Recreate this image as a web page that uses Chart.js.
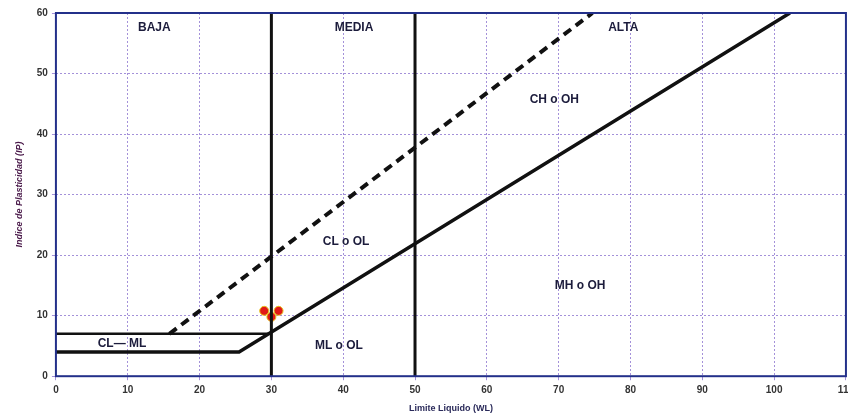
<!DOCTYPE html>
<html>
<head>
<meta charset="utf-8">
<script src="https://cdn.jsdelivr.net/npm/chart.js@4"></script>
<style>
  html, body { margin: 0; padding: 0; background: #fff; overflow: hidden; }
  #wrap { width: 858px; height: 418px; }
</style>
</head>
<body>
<div id="wrap"><canvas id="chart"></canvas></div>
<script>
// Casagrande plasticity chart: Limite Liquido (WL) vs Indice de Plasticidad (IP)
const xTicks = [0, 10, 20, 30, 40, 50, 60, 70, 80, 90, 100, 110];
const yTicks = [0, 10, 20, 30, 40, 50, 60];

// A-line with the flat part at IP = 4
const lineA = [{x: 0, y: 4}, {x: 25.5, y: 4}, {x: 102.2, y: 60}];
// upper limit of the CL-ML band
const lineCLML = [{x: 0, y: 7}, {x: 29.6, y: 7}];
// U-line (dashed)
const lineU = [{x: 15.8, y: 7}, {x: 74.7, y: 60}];
// limits baja / media / alta
const limit30 = [{x: 30, y: 0}, {x: 30, y: 60}];
const limit50 = [{x: 50, y: 0}, {x: 50, y: 60}];

// samples
const samples = [{x: 29, y: 10.8}, {x: 30, y: 9.8}, {x: 31, y: 10.8}];

// zone labels
const zoneNames = ['BAJA', 'MEDIA', 'ALTA', 'CH o OH', 'CL o OL', 'MH o OH', 'ML o OL', 'CL\u2014 ML'];
const zoneX = [13.7, 41.5, 79, 69.4, 40.4, 73, 39.4, 9.2];
const zoneY = [57.5, 57.5, 57.5, 45.6, 22.3, 15, 5, 5.3];

const frame = {
  id: 'frame',
  afterDatasetsDraw(chart) {
    const {ctx, chartArea: a, scales} = chart;
    ctx.save();
    ctx.strokeStyle = '#23308a';
    ctx.lineWidth = 2;
    ctx.strokeRect(a.left, a.top, a.right - a.left, a.bottom - a.top);
    ctx.font = 'bold 12px "Liberation Sans", Arial, sans-serif';
    ctx.fillStyle = '#1c1c3c';
    ctx.textAlign = 'center';
    ctx.textBaseline = 'middle';
    zoneNames.forEach((t, i) => {
      ctx.fillText(t, scales.x.getPixelForValue(zoneX[i]), scales.y.getPixelForValue(zoneY[i]));
    });
    ctx.restore();
  }
};

const solid = (data, w) => ({
  data, showLine: true, pointRadius: 0, borderColor: '#111', borderWidth: w, fill: false
});

const tickFont = {size: 10, weight: 'bold', family: '"Liberation Sans", Arial'};
const gridColor = 'rgba(125,98,201,0.7)';

new Chart(document.getElementById('chart'), {
  type: 'scatter',
  data: {
    datasets: [
      solid(lineA, 3.5),
      solid(lineCLML, 2.5),
      Object.assign(solid(lineU, 4), {borderDash: [9, 6]}),
      solid(limit30, 3),
      solid(limit50, 3),
      {
        data: samples, pointRadius: 4.5, backgroundColor: '#e01818',
        borderColor: '#e6c41a', borderWidth: 1, showLine: false
      }
    ]
  },
  options: {
    responsive: true,
    maintainAspectRatio: false,
    animation: false,
    layout: {padding: {top: 13, left: 10}},
    plugins: {legend: {display: false}, tooltip: {enabled: false}},
    scales: {
      x: {
        type: 'linear', min: 0, max: 110,
        afterBuildTicks: s => { s.ticks = xTicks.map(v => ({value: v})); },
        grid: {color: gridColor, tickLength: 4},
        border: {display: false, dash: [2, 2]},
        ticks: {color: '#333', font: tickFont, padding: 4},
        title: {display: true, text: 'Limite Liquido (WL)', color: '#2a2a5a',
          font: {size: 9, weight: 'bold', family: '"Liberation Sans", Arial'}, padding: {top: 3}}
      },
      y: {
        type: 'linear', min: 0, max: 60,
        afterBuildTicks: s => { s.ticks = yTicks.map(v => ({value: v})); },
        grid: {color: gridColor, tickLength: 4},
        border: {display: false, dash: [2, 2]},
        ticks: {color: '#333', font: tickFont, padding: 4},
        title: {display: true, text: 'Indice de Plasticidad (IP)', color: '#4a1a4a',
          font: {size: 9, weight: 'bold', style: 'italic', family: '"Liberation Sans", Arial'}, padding: {bottom: 8}}
      }
    }
  },
  plugins: [frame]
});
</script>
</body>
</html>
